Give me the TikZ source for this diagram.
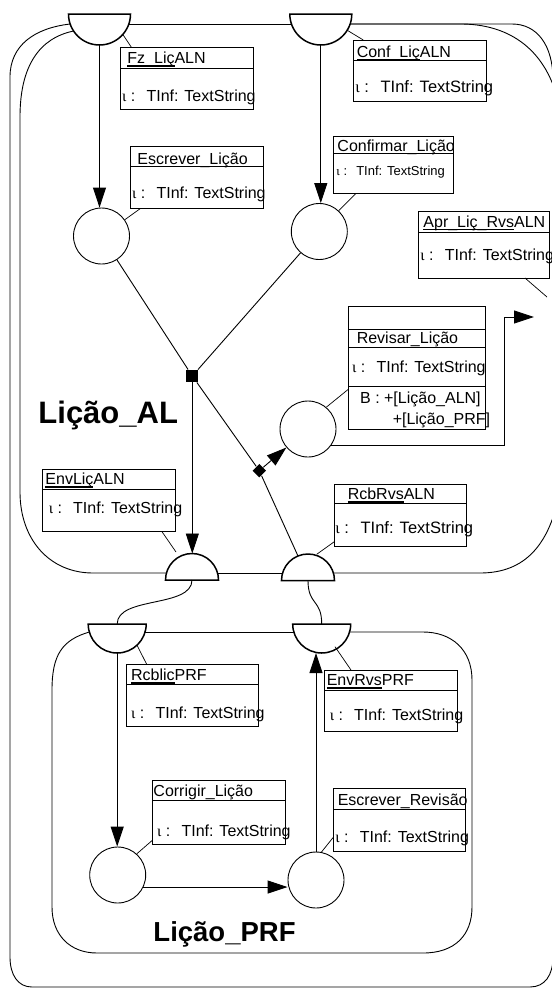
\documentclass[tikz,border=0pt]{standalone}
\usepackage{fontspec}
\setmainfont{Liberation Sans}
\newfontfamily\grk{Liberation Serif}
\usetikzlibrary{arrows.meta, positioning, shapes.geometric, calc}

\newcommand{\ulpart}[1]{\setbox0\hbox{#1}\rlap{\rule[-3.2pt]{\wd0}{1.8pt}}\box0}
\newcommand{\tinf}{{\grk ι}~:\hspace{0.7em}TInf: TextString}

\begin{document}
\begin{tikzpicture}[x=1pt, y=-1pt, line width=0.9pt,
    place/.style={circle, draw, fill=white, minimum size=56pt, inner sep=0pt},
    port/.style={semicircle, draw, fill=white, line width=1.5pt, inner sep=0pt, outer sep=0pt, minimum width=#1},
    infobox/.style={draw, rectangle, anchor=north west, inner sep=0pt, outer sep=0pt},
    hd/.style={anchor=base west, inner sep=0pt, font=\fontsize{16}{19}\selectfont},
    junc/.style={rectangle, fill=black, minimum size=12pt, inner sep=0pt},
    dmd/.style={rectangle, fill=black, minimum size=9.5pt, inner sep=0pt, rotate=45},
    flow/.style={-{Triangle[length=20pt, width=13pt]}},
    leader/.style={line width=0.7pt}]
    \useasboundingbox (0,0) rectangle (552,989);
    \clip (0,0) rectangle (552,989);

    % outer frame
    \draw (70.2,24) .. controls (35,28) and (10,45) .. (10,77) -- (10,957) .. controls (10,975) and (18,987) .. (32,987) -- (530,987) .. controls (545,987) and (553,975) .. (553,957) -- (553,80) .. controls (553,45) and (537,24) .. (512,24) -- (349.8,24);
    \draw (128.8,24) -- (291.2,24);

    % Licao_AL frame
    \draw (73.6,31) .. controls (40,38) and (20,65) .. (20,117) -- (20,492) .. controls (20,540) and (50,573) .. (93,573) -- (166.4,573);
    \draw (217.6,573) -- (282.6,573);
    \draw (333.4,573) -- (480,573) .. controls (525,573) and (550,545) .. (560,490) -- (560,110) .. controls (550,55) and (515,25) .. (463,24) -- (349.8,24);

    % Licao_PRF frame
    \draw (89.3,632) .. controls (62,640) and (52,655) .. (52,690) -- (52,907) .. controls (52,935) and (70,953) .. (97,953) -- (423,953) .. controls (455,953) and (472,935) .. (472,907) -- (472,680) .. controls (472,650) and (452,632) .. (423,632) -- (349.6,632);
    \draw (145.1,632) -- (293.8,632);

    % ports
    \node[port=62pt, rotate=180, anchor=chord center] (fzport) at (99.5,14) {};
    \node[port=62pt, rotate=180, anchor=chord center] (confport) at (320.8,14) {};
    \node[port=53pt, anchor=chord center] (envlport) at (192,580) {};
    \node[port=53pt, anchor=chord center] (rcbport) at (308,580.5) {};
    \node[port=58pt, rotate=180, anchor=chord center] (rcpport) at (117.2,624) {};
    \node[port=58pt, rotate=180, anchor=chord center] (envrport) at (321.7,624) {};

    % places and joins
    \node[place] (escl) at (101.5,236) {};
    \node[place] (cnfl) at (319.3,231.5) {};
    \node[place] (revl) at (308,429) {};
    \node[place] (corl) at (117.7,875) {};
    \node[place] (escr) at (316,880) {};
    \node[junc] (jn) at (192.3,376) {};
    \node[dmd] (dm) at (259.3,470.7) {};
    \coordinate (aprin) at (534,317);
    \coordinate (aprport) at (547,297);

    % boxes
    \node[infobox, minimum width=132.6pt, minimum height=61.6pt] (fzbox) at (120.7,47.7) {};
    \node[infobox, minimum width=133.3pt, minimum height=61.6pt] (eslbox) at (130,146.7) {};
    \node[infobox, minimum width=133.4pt, minimum height=61.7pt] (confbox) at (353.3,40) {};
    \node[infobox, minimum width=120pt, minimum height=56.6pt] (cnfbox) at (333.3,136.7) {};
    \node[infobox, minimum width=131pt, minimum height=66.3pt] (aprbox) at (418,211.7) {};
    \node[infobox, minimum width=137.4pt, minimum height=123.3pt] (revbox) at (348.3,306) {};
    \node[infobox, minimum width=132.7pt, minimum height=62.4pt] (envlbox) at (42.3,469.3) {};
    \node[infobox, minimum width=132.4pt, minimum height=62pt] (rcbbox) at (334.3,484) {};
    \node[infobox, minimum width=131.6pt, minimum height=62.4pt] (rcpbox) at (126.7,664.3) {};
    \node[infobox, minimum width=133pt, minimum height=61.7pt] (envrbox) at (324.3,670) {};
    \node[infobox, minimum width=132.3pt, minimum height=63.3pt] (corbox) at (152.7,780.7) {};
    \node[infobox, minimum width=132.4pt, minimum height=63.4pt] (esrbox) at (333.3,788.3) {};

    % header lines
    \draw ([yshift=-20.6pt]fzbox.north west) -- ([yshift=-20.6pt]fzbox.north east);
    \draw ([yshift=-20pt]eslbox.north west) -- ([yshift=-20pt]eslbox.north east);
    \draw ([yshift=-20pt]confbox.north west) -- ([yshift=-20pt]confbox.north east);
    \draw ([yshift=-16.6pt]cnfbox.north west) -- ([yshift=-16.6pt]cnfbox.north east);
    \draw ([yshift=-20.6pt]aprbox.north west) -- ([yshift=-20.6pt]aprbox.north east);
    \draw ([yshift=-23pt]revbox.north west) -- ([yshift=-23pt]revbox.north east);
    \draw ([yshift=-41.3pt]revbox.north west) -- ([yshift=-41.3pt]revbox.north east);
    \draw ([yshift=-80.7pt]revbox.north west) -- ([yshift=-80.7pt]revbox.north east);
    \draw ([yshift=-20pt]envlbox.north west) -- ([yshift=-20pt]envlbox.north east);
    \draw ([yshift=-19.3pt]rcbbox.north west) -- ([yshift=-19.3pt]rcbbox.north east);
    \draw ([yshift=-20pt]rcpbox.north west) -- ([yshift=-20pt]rcpbox.north east);
    \draw ([yshift=-20pt]envrbox.north west) -- ([yshift=-20pt]envrbox.north east);
    \draw ([yshift=-20pt]corbox.north west) -- ([yshift=-20pt]corbox.north east);
    \draw ([yshift=-21pt]esrbox.north west) -- ([yshift=-21pt]esrbox.north east);

    % box texts
    \node[hd] (fzname) at (127,63.5) {\ulpart{Fz\_Liç}ALN};
    \node[hd] (fzattr) at (121.7,101.5) {\tinf};
    \node[hd] (eslname) at (137,164.5) {Escrever\_Lição};
    \node[hd] (eslattr) at (131.7,198.5) {\tinf};
    \node[hd] (confname) at (356.3,57.2) {\ulpart{Conf\_Liç}ALN};
    \node[hd, font=\fontsize{16.5}{19}\selectfont] (confattr) at (355,92.8) {\tinf};
    \node[hd] (cnfname) at (337,151.2) {Confirmar\_Lição};
    \node[hd, font=\fontsize{13}{15}\selectfont] (cnfattr) at (336,175.7) {\tinf};
    \node[hd] (aprname) at (423,227.2) {\ulpart{Apr\_Liç\_Rvs}ALN};
    \node[hd] (aprattr) at (420,260.5) {\tinf};
    \node[hd] (revname) at (356.3,343.8) {Revisar\_Lição};
    \node[hd] (revattr) at (351.7,372.8) {\tinf};
    \node[hd] (revb1) at (359.7,403.8) {B : +[Lição\_ALN]};
    \node[hd] (revb2) at (392.3,424.5) {+[Lição\_PRF]};
    \node[hd] (envlname) at (45,484.8) {\ulpart{EnvLiç}ALN};
    \node[hd] (envlattr) at (48.3,513.8) {\tinf};
    \node[hd] (rcbname) at (347.3,499.5) {\ulpart{RcbRvs}ALN};
    \node[hd, font=\fontsize{16.5}{19}\selectfont] (rcbattr) at (335,533.8) {\tinf};
    \node[hd] (rcpname) at (130.7,680.5) {\ulpart{Rcblic}PRF};
    \node[hd] (rcpattr) at (130.7,718.8) {\tinf};
    \node[hd] (envrname) at (326.3,685.5) {\ulpart{EnvRvs}PRF};
    \node[hd] (envrattr) at (329.3,720.5) {\tinf};
    \node[hd] (corname) at (153,796.2) {Corrigir\_Lição};
    \node[hd] (corattr) at (156.7,836.2) {\tinf};
    \node[hd] (esrname) at (337.3,805.5) {Escrever\_Revisão};
    \node[hd] (esrattr) at (335,842.2) {\tinf};

    % module names
    \node[anchor=base west, inner sep=0pt, font=\bfseries\fontsize{31}{36}\selectfont] (alname) at (38,423.5) {Lição\_AL};
    \node[anchor=base west, inner sep=0pt, font=\bfseries\fontsize{27.5}{32}\selectfont] (prfname) at (153,941.7) {Lição\_PRF};

    % flow in Licao_AL
    \draw[flow] (fzport.apex) -- (fzport.apex |- escl.north);
    \draw[flow] (confport.apex) -- (confport.apex |- cnfl.north);
    \draw (escl) -- (jn);
    \draw (cnfl) -- (jn);
    \draw[flow] (jn.south) -- (jn.south |- envlport.apex);
    \draw (jn) -- (dm);
    \draw (dm) -- ([xshift=-10pt, yshift=-2pt]rcbport.apex);
    \draw[flow] (dm) -- (revl);
    \draw[flow] (revl.-35) -| (504,317) -- (aprin);

    % links between modules
    \draw (envlport.chord center) .. controls +(0,28) and +(0,-28) .. (rcpport.chord center);
    \draw (rcbport.chord center) .. controls +(0,25) and +(0,-25) .. (envrport.chord center);

    % flow in Licao_PRF
    \draw[flow] (rcpport.apex) -- (rcpport.apex |- corl.north);
    \draw[flow] (corl.-25) -- (corl.-25 -| escr.west);
    \draw[flow] (escr.north) -- (escr.north |- envrport.apex);

    % leaders to the boxes
    \draw[leader] ($(fzport.chord center)+(23,20)$) -- ([xshift=11pt]fzbox.north west);
    \draw[leader] (escl.35) -- ([xshift=10.7pt]eslbox.south west);
    \draw[leader] ($(confport.chord center)+(26,16)$) -- ([xshift=10pt]confbox.north west);
    \draw[leader] (cnfl.47) -- ([xshift=22.7pt]cnfbox.south west);
    \draw[leader] ([xshift=-24pt]aprbox.south east) -- (aprport);
    \draw[leader] (revl.50) -- ([yshift=-83.3pt]revbox.north west);
    \draw[leader] ([xshift=-13pt]envlbox.south east) -- ($(envlport.chord center)+(-16,-28)$);
    \draw[leader] ($(rcbport.chord center)+(8.7,-26.2)$) -- ([yshift=4.3pt]rcbbox.south west);
    \draw[leader] ($(rcpport.chord center)+(19.7,21)$) -- ([xshift=20pt]rcpbox.north west);
    \draw[leader] ($(envrport.chord center)+(13.3,22.7)$) -- ([xshift=26.7pt]envrbox.north west);
    \draw[leader] (corl.48) -- ([yshift=4pt]corbox.south west);
    \draw[leader] (escr.79) -- ([yshift=14.4pt]esrbox.south west);
\end{tikzpicture}
\end{document}
